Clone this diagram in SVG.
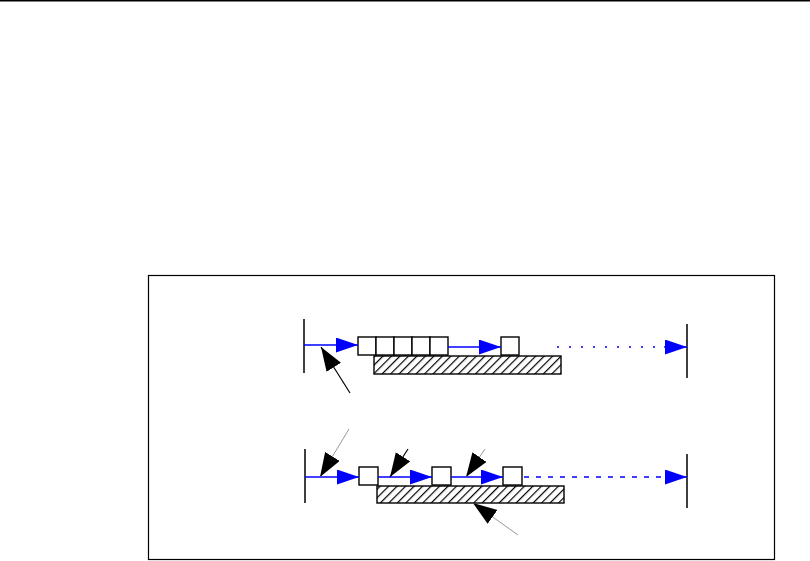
<svg xmlns="http://www.w3.org/2000/svg" width="810" height="561" viewBox="0 0 810 561">
<style>
.frame{fill:none;stroke:#000;stroke-width:1.2}
.bar{fill:none;stroke:#000;stroke-width:1.5}
.box{fill:#fff;stroke:#000;stroke-width:1.4}
.hatch{fill:url(#h);stroke:#000;stroke-width:1.4}
.flow{stroke:#0000ff;stroke-width:1.4;fill:none}
.dot{stroke:#0000ff;stroke-width:1.4;stroke-dasharray:2 10;fill:none}
.dash{stroke:#0000ff;stroke-width:1.4;stroke-dasharray:5 7;fill:none}
.callk{stroke:#000;stroke-width:1.2;fill:none}
.callg{stroke:#999;stroke-width:1;fill:none}
</style>
<defs>
<pattern id="h" patternUnits="userSpaceOnUse" width="6" height="10" patternTransform="rotate(45)">
<rect width="6" height="10" fill="#fff"/>
<line x1="0.6" y1="0" x2="0.6" y2="10" stroke="#000" stroke-width="1.2"/>
</pattern>
<marker id="ab" markerUnits="userSpaceOnUse" markerWidth="24" markerHeight="16" refX="22" refY="7.5" orient="auto">
<path d="M0,0 L22,7.5 L0,15 z" fill="#0000ff"/>
</marker>
<marker id="ak" markerUnits="userSpaceOnUse" markerWidth="26" markerHeight="18" refX="24" refY="8.5" orient="auto">
<path d="M0,0 L24,8.5 L0,17 z" fill="#000"/>
</marker>
</defs>
<line x1="0" y1="0.75" x2="810" y2="0.75" stroke="#000" stroke-width="1.5"/>
<rect id="frame" class="frame" x="148.5" y="275.5" width="626" height="284"/>

<g id="row1">
<line class="bar" x1="304" y1="319" x2="304" y2="373"/>
<line class="bar" x1="687" y1="324" x2="687" y2="378"/>
<rect class="hatch" x="374" y="356" width="187" height="18"/>
<rect class="box" x="358" y="337" width="18" height="18"/>
<rect class="box" x="376" y="337" width="18" height="18"/>
<rect class="box" x="394" y="337" width="18" height="18"/>
<rect class="box" x="412" y="337" width="18" height="18"/>
<rect class="box" x="430" y="337" width="18" height="18"/>
<rect class="box" x="501" y="337" width="18" height="18"/>
</g>

<g id="row2">
<line class="bar" x1="305" y1="449" x2="305" y2="503"/>
<line class="bar" x1="687" y1="454" x2="687" y2="508"/>
<rect class="hatch" x="377" y="486" width="187" height="17"/>
<rect class="box" x="359" y="467" width="19" height="18"/>
<rect class="box" x="432" y="467" width="19" height="18"/>
<rect class="box" x="503" y="467" width="19" height="18"/>
</g>

<g id="connectors">
<line class="flow" x1="304" y1="345" x2="358" y2="345" marker-end="url(#ab)"/>
<line class="flow" x1="448" y1="347" x2="501" y2="347" marker-end="url(#ab)"/>
<line class="dot" x1="557" y1="347" x2="665" y2="347"/>
<line class="flow" x1="664" y1="347" x2="687" y2="347" marker-end="url(#ab)"/>

<line class="flow" x1="305" y1="477" x2="359" y2="477" marker-end="url(#ab)"/>
<line class="flow" x1="378" y1="477" x2="432" y2="477" marker-end="url(#ab)"/>
<line class="flow" x1="451" y1="477" x2="503" y2="477" marker-end="url(#ab)"/>
<line class="dash" x1="524" y1="477" x2="665" y2="477"/>
<line class="flow" x1="665" y1="477" x2="687" y2="477" marker-end="url(#ab)"/>

<line class="callk" x1="350" y1="393" x2="321" y2="347" marker-end="url(#ak)"/>
<line class="callg" x1="349" y1="429" x2="320" y2="477" marker-end="url(#ak)"/>
<line class="callk" x1="408" y1="449" x2="390" y2="477" marker-end="url(#ak)"/>
<line class="callg" x1="485" y1="449" x2="466" y2="477" marker-end="url(#ak)"/>
<line class="callg" x1="518" y1="535" x2="473" y2="503" marker-end="url(#ak)"/>
</g>
</svg>
